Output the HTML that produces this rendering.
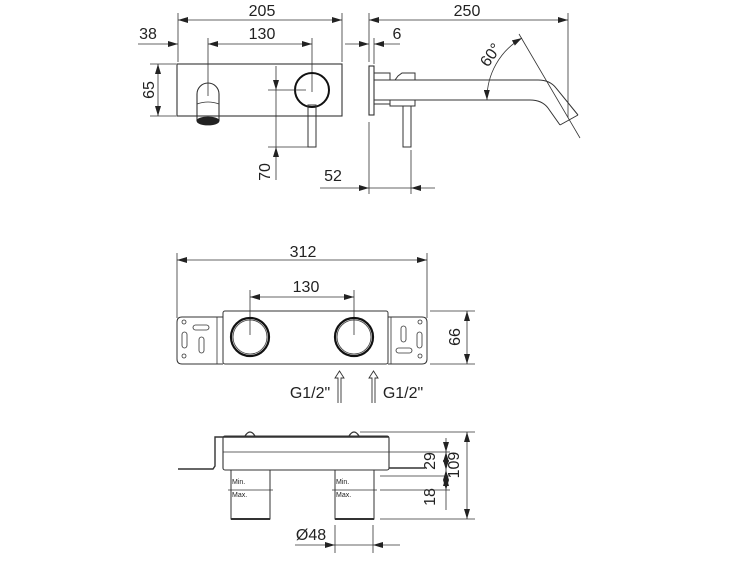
<!DOCTYPE html>
<html><head><meta charset="utf-8"><style>
html,body{margin:0;padding:0;background:#fff;}
svg{display:block;}
text{font-family:"Liberation Sans",Arial,sans-serif;fill:#222;}
</style></head><body>
<svg width="750" height="563" viewBox="0 0 750 563" xmlns="http://www.w3.org/2000/svg">
<defs>
<marker id="a" viewBox="0 0 10 6" refX="10" refY="3" markerWidth="10" markerHeight="6" orient="auto-start-reverse" markerUnits="userSpaceOnUse"><path d="M0,0 L10,3 L0,6 z" fill="#222"/></marker>
</defs>
<g stroke="#333" stroke-width="0.8" fill="none">
<line x1="178" y1="13" x2="178" y2="62"/>
<line x1="342" y1="13" x2="342" y2="62"/>
<line x1="178" y1="20" x2="342" y2="20" marker-start="url(#a)" marker-end="url(#a)"/>
<line x1="138" y1="44" x2="178" y2="44" marker-end="url(#a)"/>
<line x1="208" y1="44" x2="312" y2="44" marker-start="url(#a)" marker-end="url(#a)"/>
<line x1="208" y1="38" x2="208" y2="96"/>
<line x1="312" y1="38" x2="312" y2="92"/>
<rect x="177" y="64" width="165" height="52" stroke-width="1.1"/>
<line x1="150" y1="64" x2="176" y2="64"/>
<line x1="150" y1="116" x2="176" y2="116"/>
<line x1="158" y1="64" x2="158" y2="116" marker-start="url(#a)" marker-end="url(#a)"/>
<path d="M197,121 L197,94 A11,11 0 0 1 219,94 L219,121" stroke-width="1.1"/>
<path d="M197,104 Q208,100 219,104" />
<ellipse cx="208" cy="121" rx="11" ry="4" fill="#222" stroke="#222"/>
<circle cx="312" cy="90" r="17" stroke-width="2" stroke="#111"/>
<rect x="308" y="105" width="8" height="42" stroke-width="1"/>
<line x1="268" y1="90" x2="306" y2="90"/>
<line x1="268" y1="147" x2="316" y2="147"/>
<line x1="276" y1="66" x2="276" y2="90" marker-end="url(#a)"/>
<line x1="276" y1="90" x2="276" y2="147"/>
<line x1="276" y1="180" x2="276" y2="147" marker-end="url(#a)"/>
<line x1="369" y1="13" x2="369" y2="62"/>
<line x1="369" y1="122" x2="369" y2="194"/>
<line x1="568" y1="13" x2="568" y2="118"/>
<line x1="369" y1="20" x2="568" y2="20" marker-start="url(#a)" marker-end="url(#a)"/>
<line x1="345" y1="44" x2="369" y2="44" marker-end="url(#a)"/>
<line x1="400" y1="44" x2="374" y2="44" marker-end="url(#a)"/>
<line x1="374" y1="38" x2="374" y2="64"/>
<rect x="369" y="66" width="5" height="49" stroke-width="1.1"/>
<path d="M374,73 L390,73 L390,80 M374,104 L390,104 L390,100" stroke-width="1"/>
<path d="M390,80 L395,80 L398,76 L402,73 L415,73 L415,80" stroke-width="1"/>
<path d="M390,100 L390,106 L415,106 L415,100" stroke-width="1"/>
<path d="M374,80 L538,80 Q550,80 556,88 L578,115" stroke-width="1"/>
<path d="M374,100 L530,100 Q542,100 548,108 L560,125" stroke-width="1"/>
<path d="M560,125 L578,115" stroke-width="1"/>
<rect x="403" y="106" width="8" height="41" stroke-width="1"/>
<line x1="411" y1="150" x2="411" y2="194"/>
<line x1="320" y1="188" x2="369" y2="188" marker-end="url(#a)"/>
<line x1="369" y1="188" x2="411" y2="188"/>
<line x1="435" y1="188" x2="411" y2="188" marker-end="url(#a)"/>
<line x1="519" y1="34" x2="580" y2="138"/>
<path d="M487,100 A70,70 0 0 1 522,38" marker-start="url(#a)" marker-end="url(#a)"/>
<line x1="177" y1="253" x2="177" y2="318"/>
<line x1="427" y1="253" x2="427" y2="318"/>
<line x1="177" y1="260" x2="427" y2="260" marker-start="url(#a)" marker-end="url(#a)"/>
<line x1="250" y1="290" x2="250" y2="335"/>
<line x1="354" y1="290" x2="354" y2="335"/>
<line x1="250" y1="297" x2="354" y2="297" marker-start="url(#a)" marker-end="url(#a)"/>
<rect x="223" y="311" width="165" height="53" rx="2" stroke-width="1"/>
<path d="M223,317 L182,317 Q177,317 177,322 L177,359 Q177,364 182,364 L223,364" stroke-width="1"/>
<line x1="217" y1="317" x2="217" y2="364"/>
<path d="M388,317 L422,317 Q427,317 427,322 L427,359 Q427,364 422,364 L388,364" stroke-width="1"/>
<line x1="391" y1="317" x2="391" y2="364"/>
<circle cx="250" cy="337" r="19" stroke-width="2.2" stroke="#111"/>
<circle cx="250" cy="337" r="17" stroke-width="0.8"/>
<circle cx="354" cy="337" r="19" stroke-width="2.2" stroke="#111"/>
<circle cx="354" cy="337" r="17" stroke-width="0.8"/>
<circle cx="184" cy="322" r="2"/><circle cx="184" cy="356" r="2"/>
<circle cx="420" cy="322" r="2"/><circle cx="420" cy="356" r="2"/>
<rect x="193" y="325" width="16" height="5" rx="2.5"/>
<rect x="182" y="332" width="5" height="16" rx="2.5"/>
<rect x="199" y="337" width="5" height="16" rx="2.5"/>
<rect x="396" y="348" width="16" height="5" rx="2.5"/>
<rect x="417" y="332" width="5" height="16" rx="2.5"/>
<rect x="401" y="326" width="5" height="16" rx="2.5"/>
<line x1="430" y1="311" x2="475" y2="311"/>
<line x1="430" y1="364" x2="475" y2="364"/>
<line x1="467" y1="311" x2="467" y2="364" marker-start="url(#a)" marker-end="url(#a)"/>
<path d="M338,403 L338,378 L335,378 L339.5,371 L344,378 L341,378 L341,403" stroke-width="0.9"/>
<path d="M372,403 L372,378 L369,378 L373.5,371 L378,378 L375,378 L375,403" stroke-width="0.9"/>
<rect x="223" y="436" width="166" height="34" rx="2" stroke-width="1.1"/>
<line x1="223" y1="452" x2="400" y2="452"/>
<path d="M178,469 L213,469 L215,466 L215,437 L389,437 M389,468 L425,468" stroke-width="1.4"/>
<path d="M245,436 Q250,428 255,436 M349,436 Q354,428 359,436" stroke-width="1.2"/>
<line x1="360" y1="432" x2="475" y2="432"/>
<rect x="231" y="470" width="39" height="49" stroke-width="1"/>
<rect x="335" y="470" width="39" height="49" stroke-width="1"/>
<line x1="231" y1="519" x2="270" y2="519" stroke-width="2"/>
<line x1="335" y1="519" x2="374" y2="519" stroke-width="2"/>
<line x1="228" y1="490" x2="273" y2="490"/>
<line x1="332" y1="490" x2="377" y2="490"/>
<line x1="380" y1="476" x2="450" y2="476"/>
<line x1="380" y1="490" x2="450" y2="490"/>
<line x1="380" y1="519" x2="475" y2="519"/>
<line x1="400" y1="452" x2="450" y2="452"/>
<line x1="446" y1="438" x2="446" y2="452" marker-end="url(#a)"/>
<line x1="446" y1="470" x2="446" y2="476" marker-start="url(#a)"/>
<line x1="446" y1="452" x2="446" y2="470" marker-start="url(#a)" marker-end="url(#a)"/>
<line x1="446" y1="476" x2="446" y2="490" marker-start="url(#a)" marker-end="url(#a)"/>
<line x1="446" y1="490" x2="446" y2="510"/>
<line x1="467" y1="432" x2="467" y2="519" marker-start="url(#a)" marker-end="url(#a)"/>
<line x1="335" y1="525" x2="335" y2="553"/>
<line x1="373" y1="525" x2="373" y2="553"/>
<line x1="295" y1="545" x2="335" y2="545" marker-end="url(#a)"/>
<line x1="335" y1="545" x2="373" y2="545"/>
<line x1="400" y1="545" x2="373" y2="545" marker-end="url(#a)"/>
</g>
<g font-size="16" text-anchor="middle">
<text x="262" y="16">205</text>
<text x="148" y="39">38</text>
<text x="262" y="39">130</text>
<text x="149" y="90" transform="rotate(-90 149 90)" dy="5">65</text>
<text x="265" y="172" transform="rotate(-90 265 172)" dy="5">70</text>
<text x="467" y="16">250</text>
<text x="397" y="39">6</text>
<text x="333" y="181">52</text>
<text x="495" y="58" transform="rotate(-55 495 58)">60°</text>
<text x="303" y="257">312</text>
<text x="306" y="292">130</text>
<text x="455" y="337" transform="rotate(-90 455 337)" dy="5">66</text>
<text x="310" y="398">G1/2"</text>
<text x="403" y="398">G1/2"</text>
<text x="430" y="461" transform="rotate(-90 430 461)" dy="5">29</text>
<text x="454" y="465" transform="rotate(-90 454 465)" dy="5">109</text>
<text x="430" y="497" transform="rotate(-90 430 497)" dy="5">18</text>
<text x="311" y="540">Ø48</text>
</g>
<g font-size="7" fill="#333">
<text x="232" y="484">Min.</text><text x="232" y="497">Max.</text>
<text x="336" y="484">Min.</text><text x="336" y="497">Max.</text>
</g>
</svg>
</body></html>
